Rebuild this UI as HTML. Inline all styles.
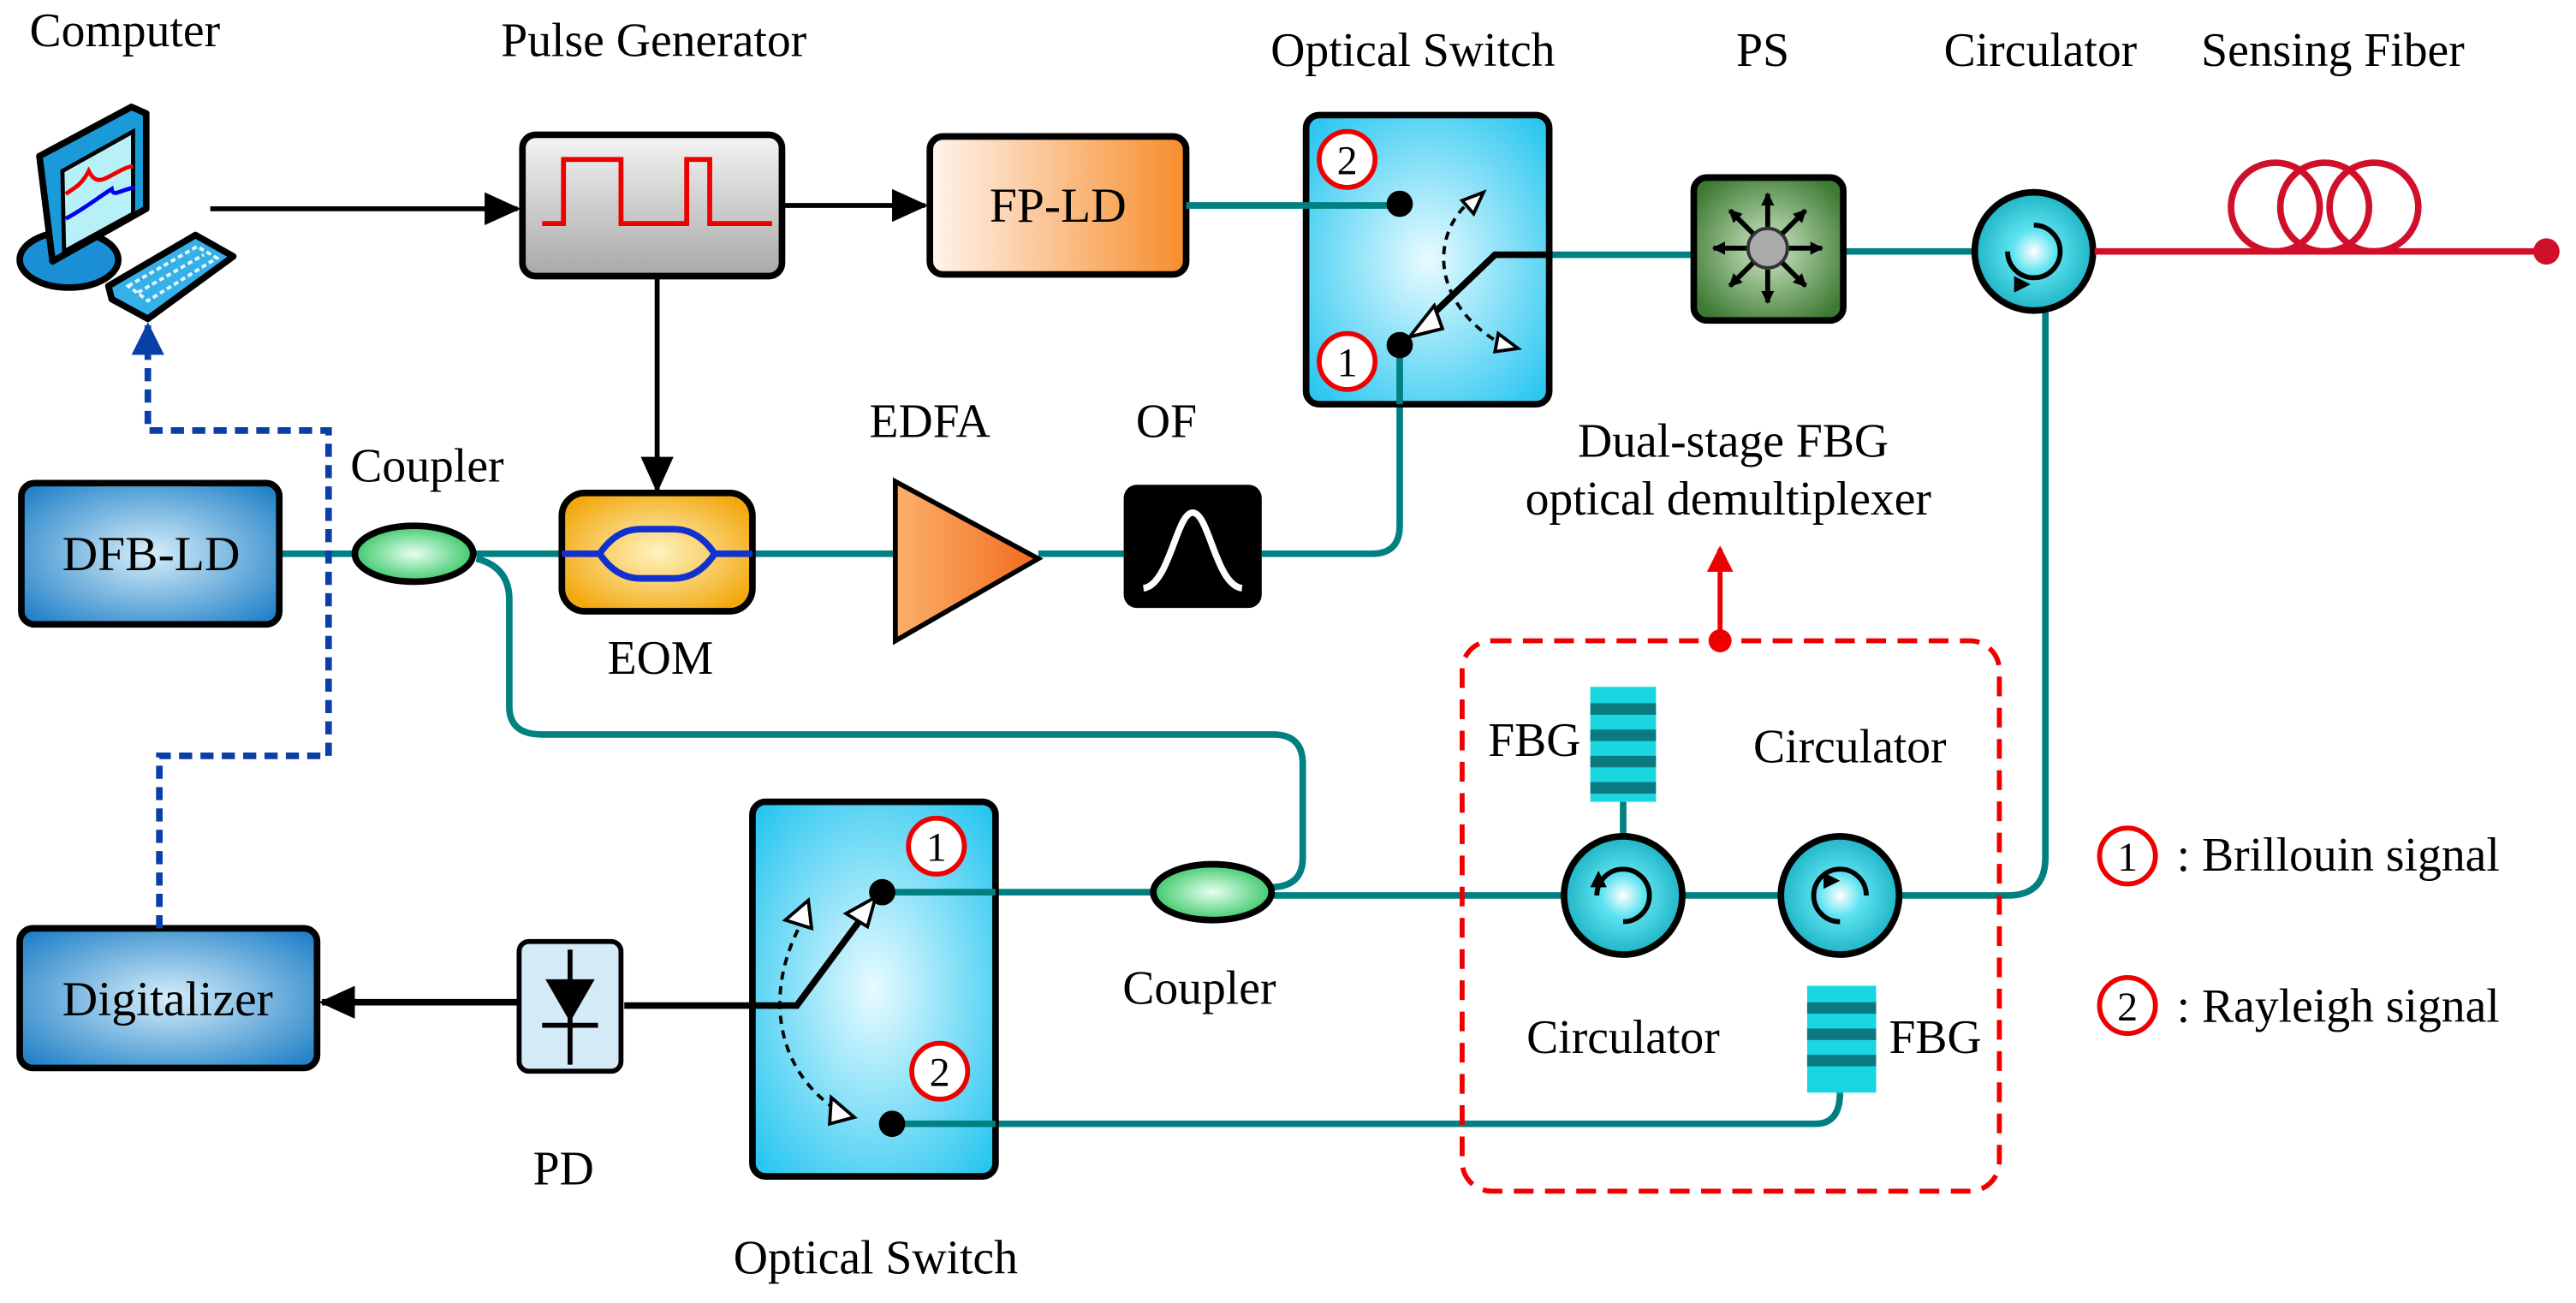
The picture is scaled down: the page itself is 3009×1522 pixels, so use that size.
<!DOCTYPE html>
<html><head><meta charset="utf-8"><style>
html,body{margin:0;padding:0;background:#fff;}
svg{display:block;}
text{font-family:"Liberation Serif","Times New Roman",serif;fill:#000;}
</style></head><body>
<svg width="3009" height="1522" viewBox="0 0 1568 793" xmlns="http://www.w3.org/2000/svg" font-family="Liberation Serif, serif">
<defs>
<linearGradient id="gray" x1="0" y1="0" x2="0" y2="1"><stop offset="0" stop-color="#f4f4f4"/><stop offset="1" stop-color="#a8a8a8"/></linearGradient>
<linearGradient id="peach" x1="0" y1="0" x2="1" y2="0"><stop offset="0" stop-color="#fff4ee"/><stop offset="1" stop-color="#f68d2a"/></linearGradient>
<radialGradient id="cyan" cx="0.5" cy="0.5" r="0.7"><stop offset="0" stop-color="#e8fbff"/><stop offset="1" stop-color="#1ec3ef"/></radialGradient>
<radialGradient id="blue" cx="0.5" cy="0.5" r="0.7"><stop offset="0" stop-color="#d6eefa"/><stop offset="1" stop-color="#1479c4"/></radialGradient>
<radialGradient id="orange" cx="0.5" cy="0.5" r="0.6"><stop offset="0" stop-color="#fff3c0"/><stop offset="1" stop-color="#f2a70c"/></radialGradient>
<radialGradient id="green" cx="0.5" cy="0.5" r="0.6"><stop offset="0" stop-color="#cfe8c8"/><stop offset="1" stop-color="#3d7a32"/></radialGradient>
<radialGradient id="cpl" cx="0.5" cy="0.5" r="0.6"><stop offset="0" stop-color="#e8fff0"/><stop offset="1" stop-color="#1dbf52"/></radialGradient>
<radialGradient id="circ" cx="0.5" cy="0.5" r="0.6"><stop offset="0" stop-color="#ffffff"/><stop offset="0.3" stop-color="#5ee3f0"/><stop offset="1" stop-color="#0aa6b8"/></radialGradient>
<linearGradient id="tri" x1="0" y1="0" x2="1" y2="0"><stop offset="0" stop-color="#fbb16b"/><stop offset="1" stop-color="#f26b1d"/></linearGradient>
<marker id="ab" markerWidth="8" markerHeight="8" refX="7" refY="4" orient="auto" markerUnits="userSpaceOnUse" viewBox="0 0 8 8"><path d="M0,0 L8,4 L0,8 z" fill="#000"/></marker>
<marker id="abig" markerWidth="22" markerHeight="20" refX="20" refY="10" orient="auto" markerUnits="userSpaceOnUse"><path d="M0,0 L22,10 L0,20 z" fill="#000"/></marker>
<marker id="ared" markerWidth="16" markerHeight="16" refX="14" refY="8" orient="auto" markerUnits="userSpaceOnUse"><path d="M0,0 L16,8 L0,16 z" fill="#e00"/></marker>
<marker id="ablue" markerWidth="20" markerHeight="20" refX="18" refY="10" orient="auto" markerUnits="userSpaceOnUse"><path d="M0,0 L20,10 L0,20 z" fill="#0b3fa8"/></marker>
</defs>

<!-- labels -->
<g font-size="29" text-anchor="middle">
<text x="76" y="28">Computer</text>
<text x="398" y="34">Pulse Generator</text>
<text x="860" y="40">Optical Switch</text>
<text x="1073" y="40">PS</text>
<text x="1242" y="40">Circulator</text>
<text x="1420" y="40">Sensing Fiber</text>
<text x="260" y="293">Coupler</text>
<text x="566" y="266">EDFA</text>
<text x="710" y="266">OF</text>
<text x="402" y="410">EOM</text>
<text x="1055" y="278">Dual-stage FBG</text>
<text x="1052" y="313">optical demultiplexer</text>
<text x="934" y="460">FBG</text>
<text x="1126" y="464">Circulator</text>
<text x="988" y="641">Circulator</text>
<text x="1178" y="641">FBG</text>
<text x="730" y="611">Coupler</text>
<text x="343" y="721">PD</text>
<text x="533" y="775">Optical Switch</text>
</g>
<g font-size="29">
<text x="1325" y="530">: Brillouin signal</text>
<text x="1325" y="622">: Rayleigh signal</text>
</g>

<!-- computer -->
<ellipse cx="42" cy="158" rx="30" ry="17" fill="#1a8fd6" stroke="#000" stroke-width="4"/>
<path d="M24,95 L80,65 L89,69 L89,127 L32,159 Z" fill="#1a9ad8" stroke="#000" stroke-width="4" stroke-linejoin="round"/>
<path d="M38,104 L81,80 L81,130 L39,153 Z" fill="#b8f0f8" stroke="#000" stroke-width="2.5"/>
<path d="M40,118 C46,114 50,112 54,104 C57,110 60,110 63,109 C70,106 75,102 81,101" stroke="#e00" stroke-width="2.5" fill="none"/>
<path d="M40,133 C50,128 60,120 68,115 C69,120 72,116 82,114" stroke="#00e" stroke-width="2.5" fill="none"/>
<path d="M66,174 L119,143 L142,156 L90,194 L68,182 Z" fill="#35b0e8" stroke="#000" stroke-width="4" stroke-linejoin="round"/>
<g fill="#e8f8ff">
<path d="M78,174 L120,150 L132,157 L90,183 Z" fill="none" stroke="#e8f8ff" stroke-width="2" stroke-dasharray="3,2"/>
<path d="M84,178 L124,155" stroke="#e8f8ff" stroke-width="2" stroke-dasharray="3,2"/>
</g>

<!-- top row arrows -->
<line x1="128" y1="127" x2="315" y2="127" stroke="#000" stroke-width="3" marker-end="url(#abig)"/>
<rect x="318" y="82" width="158" height="86" rx="8" fill="url(#gray)" stroke="#000" stroke-width="4"/>
<path d="M330,136 L343,136 L343,97 L378,97 L378,136 L418,136 L418,97 L432,97 L432,136 L470,136" stroke="#e00" stroke-width="3" fill="none"/>
<line x1="476" y1="125" x2="563" y2="125" stroke="#000" stroke-width="3" marker-end="url(#abig)"/>
<rect x="566" y="83" width="156" height="84" rx="8" fill="url(#peach)" stroke="#000" stroke-width="4"/>
<text x="644" y="135" font-size="30" text-anchor="middle">FP-LD</text>
<line x1="400" y1="168" x2="400" y2="298" stroke="#000" stroke-width="3" marker-end="url(#abig)"/>

<!-- teal lines -->
<g stroke="#008080" stroke-width="4" fill="none">
<line x1="170" y1="337" x2="545" y2="337"/>
<line x1="632" y1="337" x2="684" y2="337"/>
<path d="M768,337 L835,337 Q852,337 852,320 L852,246"/>
<line x1="943" y1="155" x2="1031" y2="155"/>
<line x1="1122" y1="153" x2="1202" y2="153"/>
<path d="M290,340 Q310,345 310,365 L310,430 Q310,447 330,447 L775,447 Q793,447 793,465 L793,522 Q793,540 773,540"/>
<path d="M1245,190 L1245,522 Q1245,545 1222,545 L1156,545"/>
<line x1="1084" y1="545" x2="1024" y2="545"/>
<line x1="952" y1="545" x2="773" y2="545"/>
<line x1="703" y1="543" x2="606" y2="543"/>
<path d="M606,684 L1105,684 Q1120,684 1120,665"/>
<line x1="988" y1="488" x2="988" y2="512"/>
</g>

<!-- top optical switch -->
<rect x="795" y="70" width="148" height="176" rx="8" fill="url(#cyan)" stroke="#000" stroke-width="4"/>
<g stroke="#008080" stroke-width="4" fill="none">
<line x1="722" y1="125" x2="852" y2="125"/>
<line x1="852" y1="246" x2="852" y2="210"/>
</g>
<path d="M943,155 L910,155 L865,198" stroke="#000" stroke-width="4" fill="none"/>
<path d="M858,205 L873,186 L878,200 Z" fill="#fff" stroke="#000" stroke-width="2"/>
<path d="M898,120 C870,140 870,185 915,210" stroke="#000" stroke-width="2" stroke-dasharray="5,4" fill="none"/>
<path d="M890,122 L903,117 L897,130 Z" fill="#fff" stroke="#000" stroke-width="2"/>
<path d="M912,203 L924,212 L910,214 Z" fill="#fff" stroke="#000" stroke-width="2"/>
<circle cx="852" cy="124" r="8" fill="#000"/><circle cx="852" cy="210" r="8" fill="#000"/>
<g stroke="#e00" stroke-width="3" fill="#fff"><circle cx="820" cy="97" r="17"/><circle cx="820" cy="220" r="17"/></g>
<g font-size="25" text-anchor="middle"><text x="820" y="106" fill="#e00">2</text><text x="820" y="229" fill="#e00">1</text></g>

<!-- PS -->
<rect x="1031" y="108" width="91" height="87" rx="8" fill="url(#green)" stroke="#000" stroke-width="4"/>
<circle cx="1076" cy="151" r="12" fill="#aaa" stroke="#333" stroke-width="2"/>
<g stroke="#000" stroke-width="3" marker-end="url(#ab)">
<line x1="1076" y1="138" x2="1076" y2="118"/><line x1="1076" y1="164" x2="1076" y2="184"/>
<line x1="1063" y1="151" x2="1043" y2="151"/><line x1="1089" y1="151" x2="1109" y2="151"/>
<line x1="1067" y1="142" x2="1053" y2="128"/><line x1="1085" y1="142" x2="1099" y2="128"/>
<line x1="1067" y1="160" x2="1053" y2="174"/><line x1="1085" y1="160" x2="1099" y2="174"/>
</g>

<!-- circulators -->
<g stroke="#000" stroke-width="4" fill="url(#circ)">
<circle cx="1238" cy="153" r="36"/><circle cx="988" cy="545" r="36"/><circle cx="1120" cy="545" r="36"/>
</g>
<g stroke="#000" stroke-width="3" fill="none">
<path d="M1222,153 A16,16 0 1 0 1238,137"/><path d="M972,545 A16,16 0 1 1 988,561"/><path d="M1136,545 A16,16 0 1 0 1120,561"/>
</g>
<path d="M1226,168 l10,5 l-10,5z" fill="#000"/>
<path d="M968,540 l5,-10 l5,10z" fill="#000"/>
<path d="M1110,531 l10,5 l-10,5z" fill="#000"/>

<!-- sensing fiber -->
<line x1="1275" y1="153" x2="1550" y2="153" stroke="#d0102a" stroke-width="4"/>
<g stroke="#d0102a" stroke-width="4" fill="none">
<circle cx="1385" cy="126" r="27"/><circle cx="1415" cy="126" r="27"/><circle cx="1445" cy="126" r="27"/>
</g>
<circle cx="1550" cy="153" r="8" fill="#d0102a"/>

<!-- DFB -->
<rect x="13" y="294" width="157" height="86" rx="8" fill="url(#blue)" stroke="#000" stroke-width="4"/>
<text x="92" y="347" font-size="30" text-anchor="middle">DFB-LD</text>
<ellipse cx="252" cy="337" rx="36" ry="17" fill="url(#cpl)" stroke="#000" stroke-width="4"/>
<ellipse cx="738" cy="543" rx="36" ry="17" fill="url(#cpl)" stroke="#000" stroke-width="4"/>

<!-- EOM -->
<rect x="342" y="300" width="116" height="72" rx="14" fill="url(#orange)" stroke="#000" stroke-width="4"/>
<path d="M342,337 L365,337 Q375,322 390,322 L410,322 Q425,322 435,337 L458,337 M365,337 Q375,352 390,352 L410,352 Q425,352 435,337" stroke="#1030d0" stroke-width="4" fill="none"/>

<!-- EDFA -->
<path d="M545,293 L632,340 L545,390 Z" fill="url(#tri)" stroke="#000" stroke-width="3"/>
<!-- OF -->
<rect x="684" y="295" width="84" height="75" rx="8" fill="#000"/>
<path d="M696,358 C712,356 716,312 726,312 C736,312 740,356 756,358" stroke="#fff" stroke-width="4" fill="none"/>

<!-- FBG block -->
<rect x="890" y="390" width="327" height="335" rx="18" fill="none" stroke="#e00" stroke-width="3" stroke-dasharray="12,7"/>
<line x1="1047" y1="390" x2="1047" y2="334" stroke="#e00" stroke-width="3" marker-end="url(#ared)"/>
<circle cx="1047" cy="390" r="7" fill="#e00"/>
<rect x="968" y="418" width="40" height="70" fill="#1ad6e0"/>
<rect x="1100" y="600" width="42" height="65" fill="#1ad6e0"/>
<g fill="#0a7a80">
<rect x="968" y="428" width="40" height="7"/><rect x="968" y="444" width="40" height="7"/><rect x="968" y="460" width="40" height="7"/><rect x="968" y="476" width="40" height="7"/>
<rect x="1100" y="610" width="42" height="7"/><rect x="1100" y="626" width="42" height="7"/><rect x="1100" y="642" width="42" height="7"/>
</g>

<!-- bottom optical switch -->
<rect x="458" y="488" width="148" height="228" rx="8" fill="url(#cyan)" stroke="#000" stroke-width="4"/>
<g stroke="#008080" stroke-width="4" fill="none">
<line x1="606" y1="543" x2="537" y2="543"/>
<line x1="606" y1="684" x2="543" y2="684"/>
</g>
<path d="M380,612 L485,612 L525,558" stroke="#000" stroke-width="4" fill="none"/>
<path d="M533,546 L515,556 L528,564 Z" fill="#fff" stroke="#000" stroke-width="2"/>
<path d="M490,558 C465,600 470,650 510,676" stroke="#000" stroke-width="2" stroke-dasharray="5,4" fill="none"/>
<path d="M478,560 L492,548 L494,565 Z" fill="#fff" stroke="#000" stroke-width="2"/>
<path d="M506,668 L520,680 L505,684 Z" fill="#fff" stroke="#000" stroke-width="2"/>
<circle cx="537" cy="543" r="8" fill="#000"/><circle cx="543" cy="684" r="8" fill="#000"/>
<g stroke="#e00" stroke-width="3" fill="#fff"><circle cx="570" cy="515" r="17"/><circle cx="572" cy="652" r="17"/>
<circle cx="1295" cy="521" r="17"/><circle cx="1295" cy="612" r="17"/></g>
<g font-size="25" text-anchor="middle"><text x="570" y="524" fill="#e00">1</text><text x="572" y="661" fill="#e00">2</text>
<text x="1295" y="530" fill="#e00">1</text><text x="1295" y="621" fill="#e00">2</text></g>

<!-- PD -->
<rect x="316" y="573" width="62" height="79" rx="6" fill="#d5eaf7" stroke="#000" stroke-width="3"/>
<line x1="347" y1="578" x2="347" y2="648" stroke="#000" stroke-width="3"/>
<path d="M332,596 L362,596 L347,622 Z" fill="#000"/><line x1="330" y1="624" x2="364" y2="624" stroke="#000" stroke-width="3"/>

<!-- Digitalizer -->
<rect x="12" y="565" width="181" height="85" rx="8" fill="url(#blue)" stroke="#000" stroke-width="4"/>
<text x="102" y="618" font-size="30" text-anchor="middle">Digitalizer</text>
<line x1="316" y1="610" x2="196" y2="610" stroke="#000" stroke-width="4" marker-end="url(#abig)"/>

<!-- blue dashed -->
<path d="M97,565 L97,460 L200,460 L200,262 L90,262 L90,198" stroke="#0b3fa8" stroke-width="4" stroke-dasharray="8,5" fill="none" marker-end="url(#ablue)"/>
</svg>
</body></html>
